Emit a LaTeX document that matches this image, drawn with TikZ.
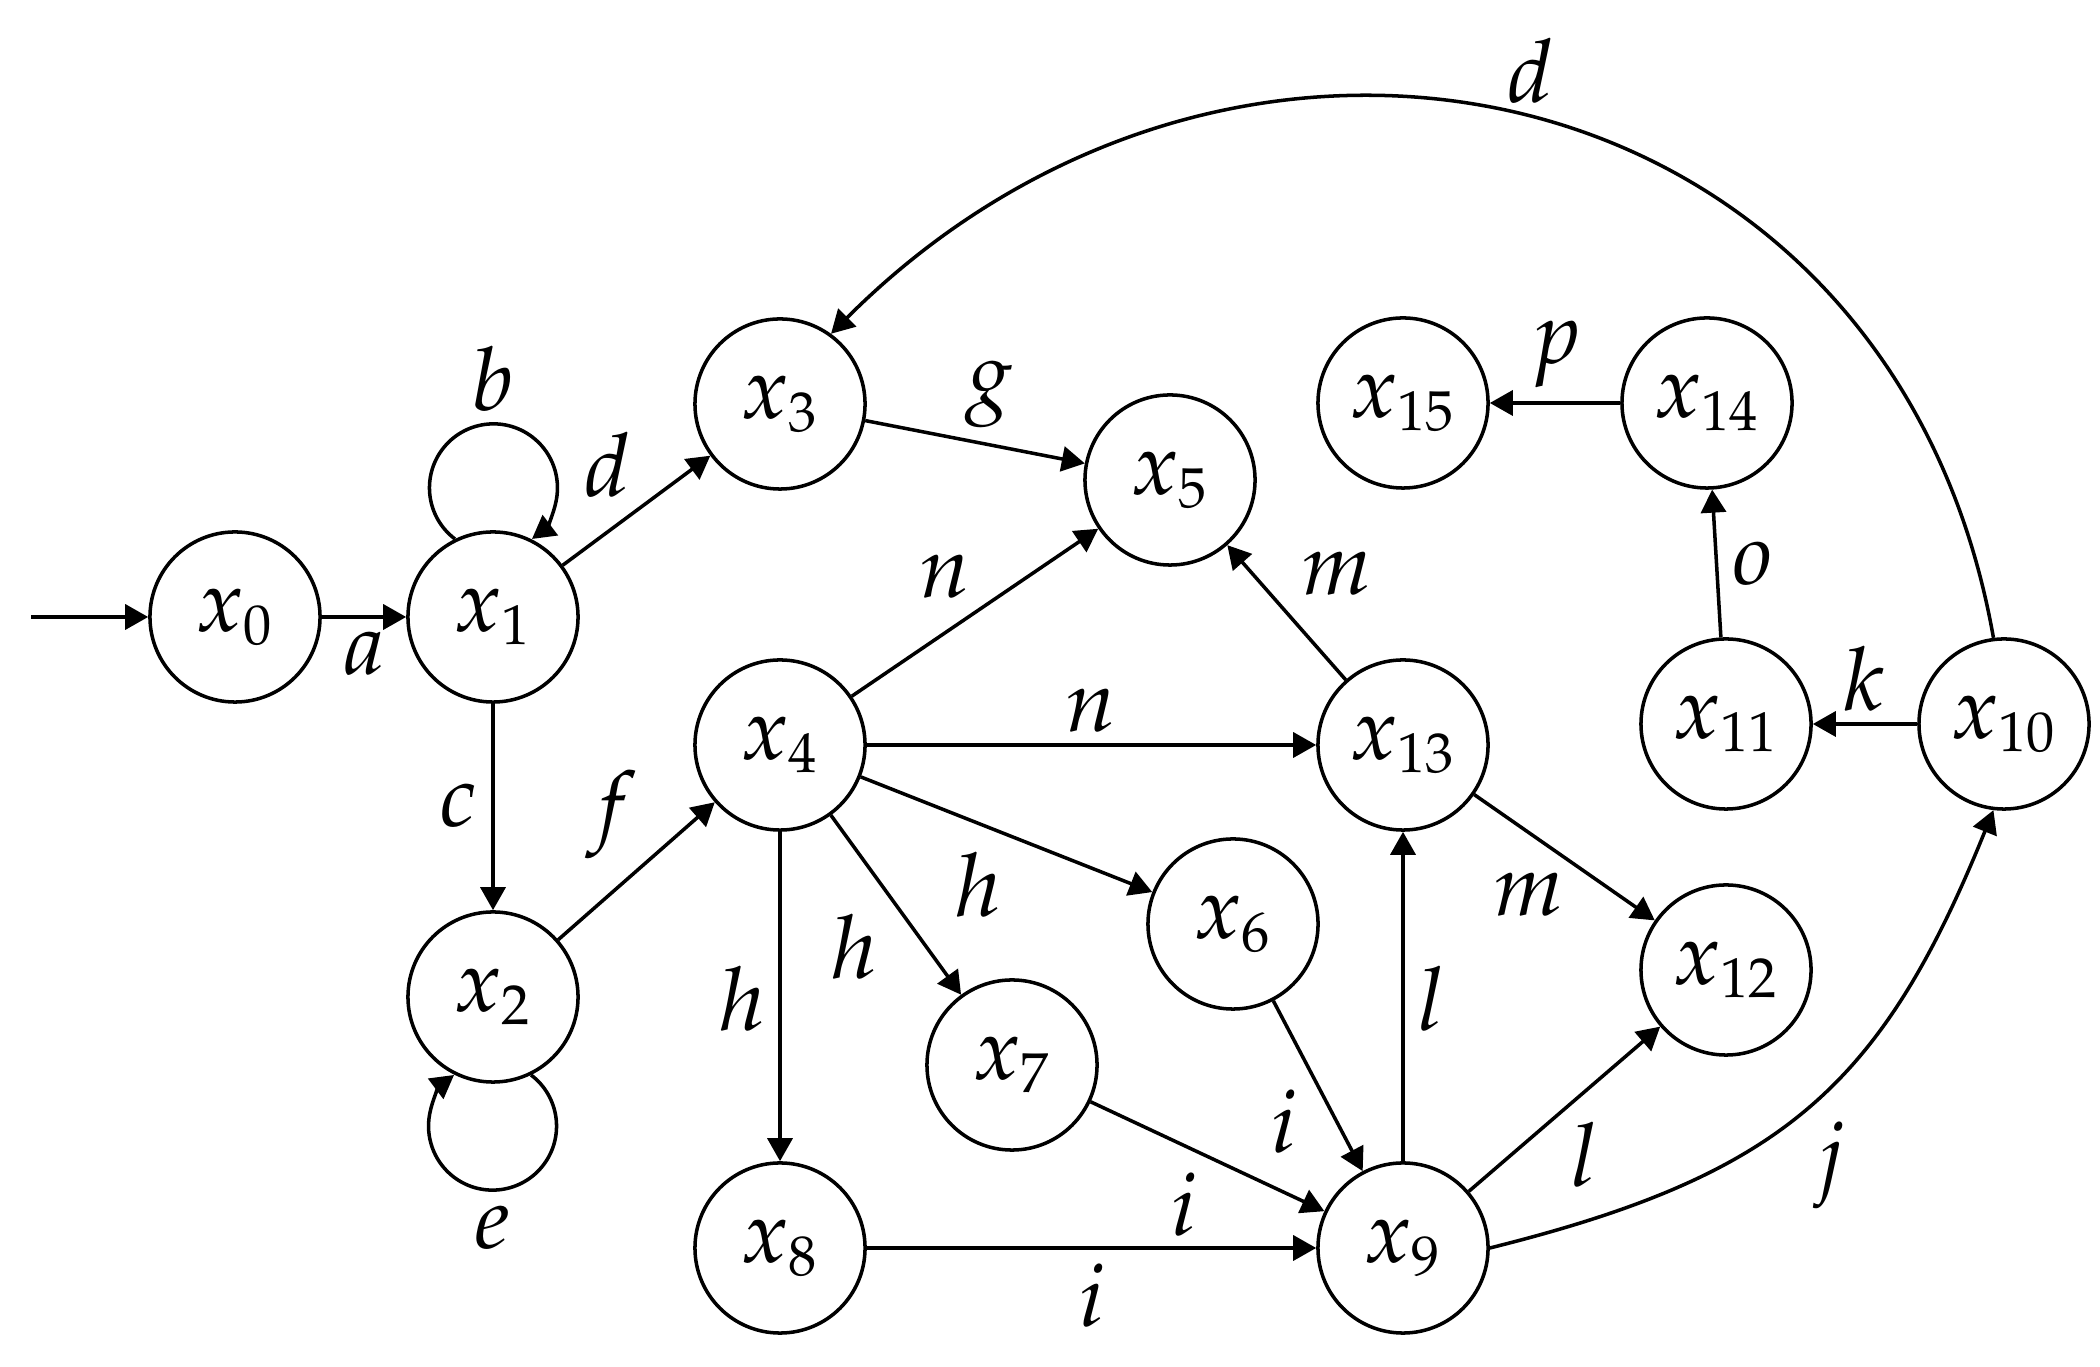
\documentclass[tikz,border=0pt]{standalone}
\usepackage{mathpazo}
\DeclareMathSizes{25}{25}{16}{12}
\usetikzlibrary{arrows.meta}
\tikzset{
  stnode/.style={draw, circle, line width=1pt, minimum size=1.70cm, inner sep=0pt, font=\fontsize{25}{30}\selectfont},
  lab/.style={inner sep=0pt, font=\fontsize{25}{30}\selectfont},
  arr/.style={line width=1pt, -{Triangle[length=0.23cm,width=0.25cm]}},
}
\begin{document}
\begin{tikzpicture}[x=0.01cm,y=0.01cm]
\useasboundingbox (0,0) rectangle (2100,1367);
% states
\node[stnode] (x0)  at (235,750)  {$x_{0}$};
\node[stnode] (x1)  at (493,750)  {$x_{1}$};
\node[stnode] (x2)  at (493,370)  {$x_{2}$};
\node[stnode] (x3)  at (780,963)  {$x_{3}$};
\node[stnode] (x4)  at (780,622)  {$x_{4}$};
\node[stnode] (x5)  at (1170,887) {$x_{5}$};
\node[stnode] (x6)  at (1233,443) {$x_{6}$};
\node[stnode] (x7)  at (1012,302) {$x_{7}$};
\node[stnode] (x8)  at (780,119)  {$x_{8}$};
\node[stnode] (x9)  at (1403,119) {$x_{9}$};
\node[stnode] (x10) at (2004,643) {$x_{10}$};
\node[stnode] (x11) at (1726,643) {$x_{11}$};
\node[stnode] (x12) at (1726,397) {$x_{12}$};
\node[stnode] (x13) at (1403,622) {$x_{13}$};
\node[stnode] (x14) at (1707,964) {$x_{14}$};
\node[stnode] (x15) at (1403,964) {$x_{15}$};
\coordinate (init) at (31,750);
% edges
\draw[arr] (init) -- (x0);
\draw[arr] (x0) -- (x1);
\draw[arr] (x1.116) arc[start angle=233, end angle=-53, radius=64];
\draw[arr] (x1) -- (x2);
\draw[arr] (x1) -- (x3);
\draw[arr] (x2.-64) arc[start angle=53, end angle=-233, radius=64];
\draw[arr] (x2) -- (x4);
\draw[arr] (x3) -- (x5);
\draw[arr] (x4) -- (x5);
\draw[arr] (x4) -- (x13);
\draw[arr] (x4) -- (x6);
\draw[arr] (x4) -- (x7);
\draw[arr] (x4) -- (x8);
\draw[arr] (x6) -- (x9);
\draw[arr] (x7) -- (x9);
\draw[arr] (x8) -- (x9);
\draw[arr] (x9) -- (x13);
\draw[arr] (x9) -- (x12);
\draw[arr] (x13) -- (x5);
\draw[arr] (x13) -- (x12);
\draw[arr] (x9.east) .. controls +(14:300) and +(248:300) .. (x10.-97);
\draw[arr] (x10.97) .. controls +(100:580) and +(45:580) .. (x3.54);
\draw[arr] (x10) -- (x11);
\draw[arr] (x11) -- (x14);
\draw[arr] (x14) -- (x15);
% labels
\node[lab] (la)  at (364,713)  {$a$};
\node[lab] (lb)  at (493,988)  {$b$};
\node[lab] (lc)  at (458,561)  {$c$};
\node[lab] (ld1) at (607,902)  {$d$};
\node[lab] (le)  at (493,139)  {$e$};
\node[lab] (lf)  at (612,552)  {$f$};
\node[lab] (lg)  at (989,973)  {$g$};
\node[lab] (ln1) at (945,790)  {$n$};
\node[lab] (ln2) at (1091,656) {$n$};
\node[lab] (lh6) at (978,482)  {$h$};
\node[lab] (lh7) at (854,420)  {$h$};
\node[lab] (lh8) at (742,368)  {$h$};
\node[lab] (lm1) at (1337,793) {$m$};
\node[lab] (lp)  at (1556,1013) {$p$};
\node[lab] (lo)  at (1753,803) {$o$};
\node[lab] (lk)  at (1864,688) {$k$};
\node[lab] (lm2) at (1529,472) {$m$};
\node[lab] (ll1) at (1432,368) {$l$};
\node[lab] (li6) at (1284,245) {$i$};
\node[lab] (li7) at (1184,162) {$i$};
\node[lab] (li8) at (1092,71)  {$i$};
\node[lab] (ll2) at (1585,212) {$l$};
\node[lab] (lj)  at (1830,202) {$j$};
\node[lab] (ld2) at (1530,1296) {$d$};
\end{tikzpicture}
\end{document}
